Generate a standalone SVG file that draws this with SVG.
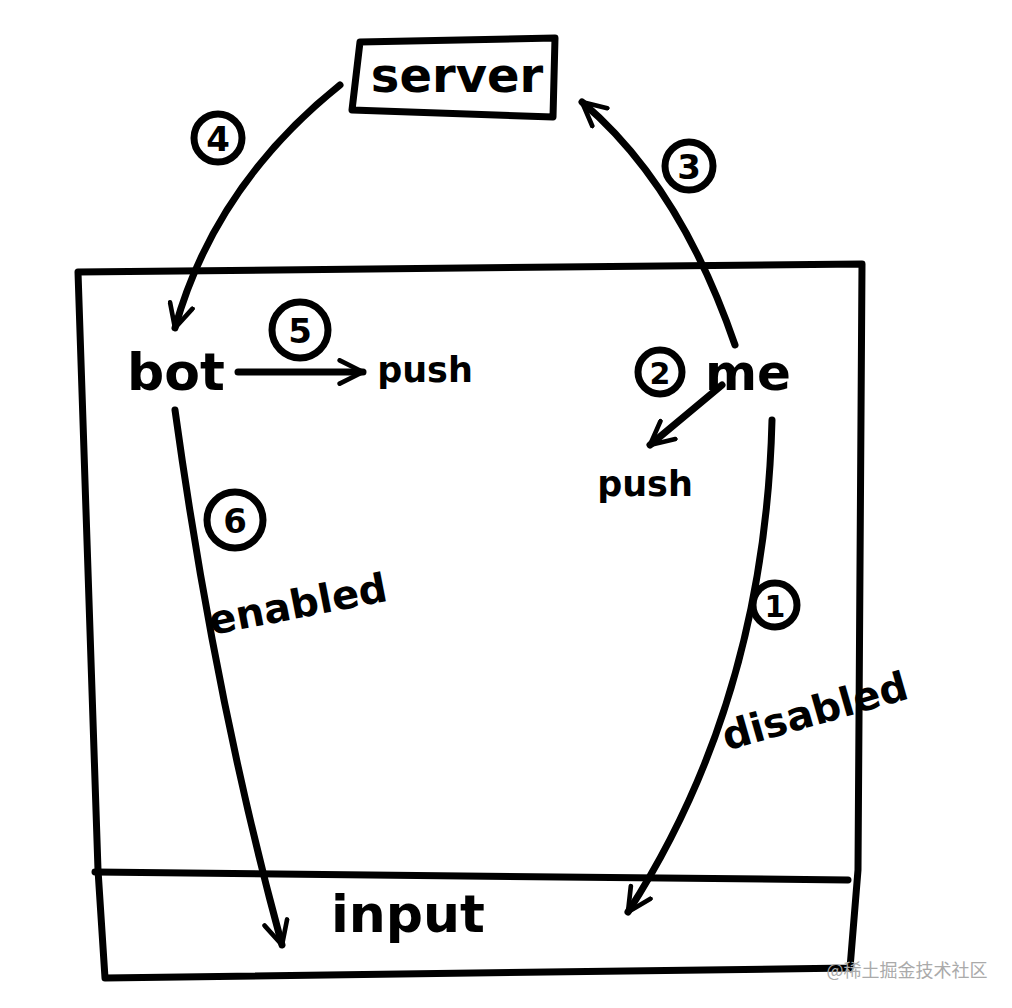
<svg xmlns="http://www.w3.org/2000/svg" width="1012" height="1008" viewBox="0 0 1012 1008">
<defs>
<style>
.ln{fill:none;stroke:#000;stroke-width:7;stroke-linecap:round;stroke-linejoin:round}
.cn{fill:none;stroke:#000;stroke-width:7;stroke-linecap:round;stroke-linejoin:round}
.num{font-family:"DejaVu Sans",sans-serif;font-weight:bold;fill:#000;text-anchor:middle}
.lbl{font-family:"DejaVu Sans",sans-serif;font-weight:bold;fill:#000;text-anchor:middle}
.circ{fill:none;stroke:#000;stroke-width:7}
</style>
<marker id="chev" viewBox="0 0 12 12" refX="11" refY="6" markerWidth="28" markerHeight="28" markerUnits="userSpaceOnUse" orient="auto">
<path d="M1,1 L11,6 L1,11" fill="none" stroke="#000" stroke-width="2" stroke-linecap="round" stroke-linejoin="round"/>
</marker>
</defs>
<rect width="1012" height="1008" fill="#fff"/>
<g id="container">
<path class="ln" d="M78,272 L862,264 L858,870 L850,968 L105,978 L98,870 L78,272"/>
</g>
<g id="input">
<path class="ln" d="M95,872 L848,880"/>
<text class="lbl" x="408" y="932" font-size="52">input</text>
</g>
<g id="server">
<path class="ln" d="M360,42 L555,38 L553,117 L352,110 Z"/>
<text class="lbl" x="457" y="92" font-size="48">server</text>
</g>
<g id="bot">
<text class="lbl" x="176" y="390" font-size="52">bot</text>
</g>
<g id="me">
<text class="lbl" x="748" y="390" font-size="50">me</text>
</g>
<g id="push1">
<text class="lbl" x="425" y="382" font-size="35">push</text>
</g>
<g id="push2">
<text class="lbl" x="645" y="496" font-size="35">push</text>
</g>
<g id="enabled">
<text class="lbl" x="298" y="618" font-size="40" transform="rotate(-11 298 605)">enabled</text>
</g>
<g id="disabled">
<text class="lbl" x="815" y="725" font-size="40" transform="rotate(-16 815 712)">disabled</text>
</g>
<g id="connectors">
<path class="cn" d="M340,85 Q215,185 175,328" marker-end="url(#chev)"/>
<path class="cn" d="M735,345 Q680,185 582,102" marker-end="url(#chev)"/>
<path class="cn" d="M238,372 L363,372" marker-end="url(#chev)"/>
<path class="cn" d="M722,385 L650,445" marker-end="url(#chev)"/>
<path class="cn" d="M175,410 Q215,700 282,945" marker-end="url(#chev)"/>
<path class="cn" d="M772,420 Q765,700 628,912" marker-end="url(#chev)"/>
</g>
<g id="badges">
<circle class="circ" cx="218" cy="138" r="24"/><text class="num" x="218" y="151" font-size="34">4</text>
<circle class="circ" cx="689" cy="166" r="24"/><text class="num" x="689" y="179" font-size="34">3</text>
<circle class="circ" cx="300" cy="330" r="28"/><text class="num" x="300" y="343" font-size="34">5</text>
<circle class="circ" cx="660" cy="372" r="22"/><text class="num" x="660" y="384" font-size="30">2</text>
<circle class="circ" cx="235" cy="520" r="28"/><text class="num" x="235" y="533" font-size="34">6</text>
<circle class="circ" cx="775" cy="605" r="22"/><text class="num" x="775" y="617" font-size="30">1</text>
</g>
<text x="907" y="977" font-family="'Noto Sans CJK SC',sans-serif" font-size="18" fill="#aaa" text-anchor="middle">@稀土掘金技术社区</text>
</svg>
